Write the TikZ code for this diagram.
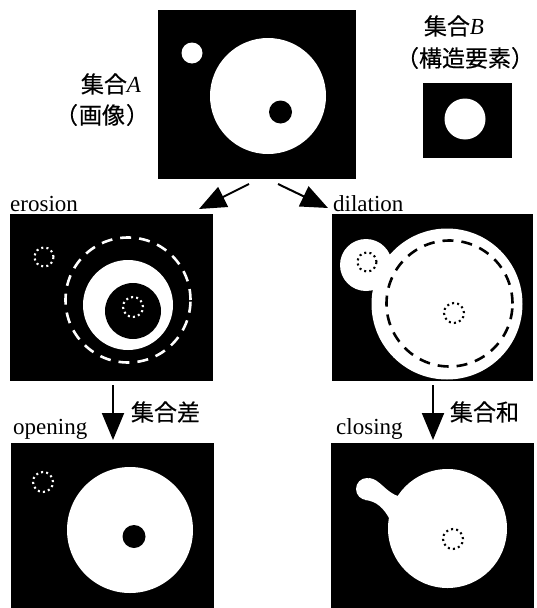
\documentclass[tikz,border=0pt]{standalone}
\usepackage{fontspec}
\setmainfont{Liberation Serif}
\newfontfamily\cjk[FakeBold=0.35]{Noto Sans CJK JP}
\usetikzlibrary{arrows.meta}
\newcommand\setlet[1]{{\rmfamily\itshape\fontsize{23}{25}\selectfont #1}}
\newcommand\lpar{（\hspace{1pt}}
\newcommand\rpar{\hspace{1pt}）}
\begin{document}
\begin{tikzpicture}[x=1pt,y=-1pt,
  panel/.style={fill=black,draw=none,inner sep=0pt,outer sep=0pt},
  wh/.style={fill=white},
  arr/.style={line width=2pt,-{Triangle[length=27pt,width=22pt]}},
  dashc/.style={line width=2.6pt,dash pattern=on 11pt off 8pt},
  dotc/.style={line width=2.1pt,dash pattern=on 2pt off 3.2pt},
  cjklab/.style={font=\cjk\fontsize{23}{26}\selectfont,inner sep=0pt},
  serlab/.style={font=\fontsize{23}{26}\selectfont,inner sep=0pt,anchor=base west}]
\useasboundingbox (0,0) rectangle (536,608);

% panels
\node[panel,minimum width=198pt,minimum height=169pt] (A) at (257,94.5) {};
\node[panel,minimum width=89pt,minimum height=75pt] (B) at (467,120) {};
\node[panel,minimum width=203pt,minimum height=167pt] (ero) at (111.5,297.5) {};
\node[panel,minimum width=201pt,minimum height=167pt] (dil) at (432.5,297.5) {};
\node[panel,minimum width=203pt,minimum height=165pt] (ope) at (112.5,525.5) {};
\node[panel,minimum width=203pt,minimum height=165pt] (clo) at (432.5,525.5) {};

% set A
\fill[wh] (192,53) circle (10.5pt);
\fill[wh] (268,96) circle (58pt);
\fill[black] (280.5,112) circle (11.5pt);

% set B
\fill[wh] (465,119) circle (20.5pt);

% erosion
\draw[white,dotc] (44,257) circle (9.5pt);
\draw[white,dashc] (128,300) circle (62.5pt);
\fill[wh] (128,305) circle (45pt);
\fill[black] (133,311) circle (28pt);
\draw[white,dotc] (133,307) circle (10pt);

% dilation
\fill[wh] (366,265) circle (26pt);
\fill[wh] (447,304) circle (75.5pt);
\draw[black,dashc] (449.5,303.5) circle (63pt);
\draw[black,dotc] (367,262) circle (9.5pt);
\draw[black,dotc] (454,313) circle (10pt);

% opening
\fill[wh] (130,530) circle (63pt);
\fill[black] (134,536.5) circle (11.5pt);
\draw[white,dotc] (43,482) circle (10pt);

% closing
\fill[wh] (447.5,528.5) circle (59.5pt);
\fill[wh] (367,489) circle (11pt);
\fill[wh] (369,478) .. controls (380,479) and (385,492) .. (399,496.5)
  -- (410,505) -- (389,518) .. controls (384,509) and (377,501) .. (365,500) -- cycle;
\draw[black,dotc] (453,539) circle (10pt);

% labels
\node[cjklab] (lA1) at (111,84) {集合\setlet{A}};
\node[cjklab] (lA2) at (102,115) {\lpar 画像\rpar};
\node[cjklab] (lB1) at (454,26) {集合\setlet{B}};
\node[cjklab] (lB2) at (465,58) {（構造要素）};
\node[serlab] (tero) at (10,211) {erosion};
\node[serlab] (tdil) at (333,211) {dilation};
\node[serlab] (tope) at (13,434) {opening};
\node[serlab] (tclo) at (336,434) {closing};
\node[cjklab] (ldif) at (165.5,412) {集合差};
\node[cjklab] (lsum) at (484.5,412) {集合和};

% arrows
\coordinate (a1s) at (249,184);
\coordinate (a1e) at (199,209);
\coordinate (a2s) at (278,184);
\coordinate (a2e) at (328,208);
\coordinate (a3s) at (113,385);
\coordinate (a3e) at (113,440);
\coordinate (a4s) at (433,385);
\coordinate (a4e) at (433,440);
\draw[arr] (a1s) -- (a1e);
\draw[arr] (a2s) -- (a2e);
\draw[arr] (a3s) -- (a3e);
\draw[arr] (a4s) -- (a4e);
\end{tikzpicture}
\end{document}
